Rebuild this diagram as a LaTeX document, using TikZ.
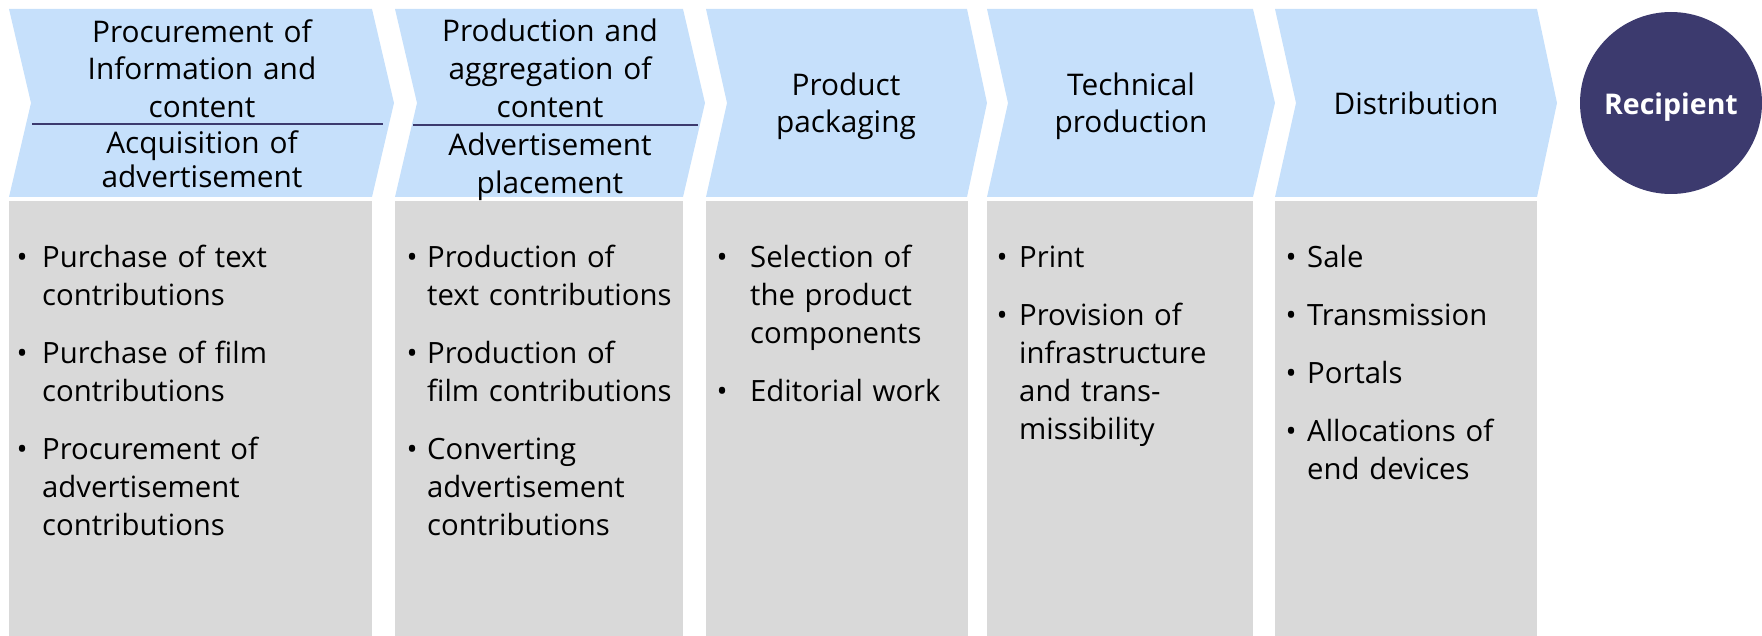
\documentclass[tikz,border=0pt]{standalone}
\usepackage{fontspec}
\setmainfont{Open Sans}
\definecolor{chevblue}{RGB}{198,224,251}
\definecolor{boxgray}{RGB}{217,217,217}
\definecolor{navy}{RGB}{60,58,110}
\newcommand{\myitem}[1][18pt]{\leavevmode\llap{\makebox[0pt]{•}\hspace*{#1}}}
\begin{document}
\begin{tikzpicture}[x=1pt,y=-1pt,
  chev/.style={fill=chevblue},
  col/.style={fill=boxgray},
  sep/.style={draw=navy,line width=1.2pt},
  head/.style={inner sep=0pt,anchor=north,text width=360pt,align=center,font=\fontsize{29.8}{#1}\selectfont},
  head/.default=37.5,
  body/.style={inner sep=0pt,anchor=north west,text width=330pt,align=left,font=\fontsize{29.3}{38}\selectfont},
]
\useasboundingbox (0,0) rectangle (1762,636);
% grey columns
\fill[col] (9,201) rectangle (372,636);
\fill[col] (395,201) rectangle (683,636);
\fill[col] (706,201) rectangle (968,636);
\fill[col] (987,201) rectangle (1253,636);
\fill[col] (1275,201) rectangle (1537,636);
% chevrons
\fill[chev] (9,9) -- (372,9) -- (394,103) -- (372,197) -- (9,197) -- (31,103) -- cycle;
\fill[chev] (395,9) -- (683,9) -- (705,103) -- (683,197) -- (395,197) -- (417,103) -- cycle;
\fill[chev] (706,9) -- (967,9) -- (987,103) -- (967,197) -- (706,197) -- (727,103) -- cycle;
\fill[chev] (987,9) -- (1253,9) -- (1275,103) -- (1253,197) -- (987,197) -- (1008,103) -- cycle;
\fill[chev] (1275,9) -- (1537,9) -- (1557,103) -- (1537,197) -- (1275,197) -- (1296,103) -- cycle;
% separators
\coordinate (s1a) at (32,124); \coordinate (s1b) at (383,124);
\coordinate (s2a) at (413,125); \coordinate (s2b) at (698,125);
\draw[sep] (s1a) -- (s1b);
\draw[sep] (s2a) -- (s2b);
% headers
\node[head=37.5] (h1a) at (202,15.75) {\strut Procurement of\\Information and\\content};
\node[head=34] (h1b) at (202,129.2) {\strut Acquisition of\\advertisement};
\node[head=38] (h2a) at (550,15.2) {\strut Production and\\aggregation of\\content};
\node[head=37.5] (h2b) at (550,129.3) {\strut Advertisement\\placement};
\node[head=37] (h3) at (846,69.1) {\strut Product\\packaging};
\node[head=37] (h4) at (1131,69.1) {\strut Technical\\production};
\node[inner sep=0pt,anchor=base,font=\fontsize{29.8}{37}\selectfont] (h5) at (1416,115) {Distribution};
\node[circle,fill=navy,minimum size=182pt,inner sep=0pt] (rec) at (1671,103) {};
\node[inner sep=0pt,anchor=base,text=white,font=\fontsize{28.5}{37}\selectfont\bfseries] (recl) at (1671,115) {Recipient};
% bullet lists
\node[body] (b1) at (42,240.4) {\noindent\myitem[20pt]\strut Purchase of text\\contributions\\[20pt]
\myitem[20pt]Purchase of film\\contributions\\[20pt]
\myitem[20pt]Procurement of\\advertisement\\contributions};
\node[body] (b2) at (427,240.4) {\noindent\myitem[15pt]\strut Production of\\text contributions\\[20pt]
\myitem[15pt]Production of\\film contributions\\[20pt]
\myitem[15pt]Converting\\advertisement\\contributions};
\node[body] (b3) at (750,240.4) {\noindent\myitem[28pt]\strut Selection of\\the product\\components\\[20pt]
\myitem[28pt]Editorial work};
\node[body] (b4) at (1019,240.4) {\noindent\myitem[17pt]\strut Print\\[20pt]
\myitem[17pt]Provision of\\infrastructure\\and trans-\\missibility};
\node[body] (b5) at (1307,240.4) {\noindent\myitem[16pt]\strut Sale\\[20pt]
\myitem[16pt]Transmission\\[20pt]
\myitem[16pt]Portals\\[20pt]
\myitem[16pt]Allocations of\\end devices};
\end{tikzpicture}
\end{document}
